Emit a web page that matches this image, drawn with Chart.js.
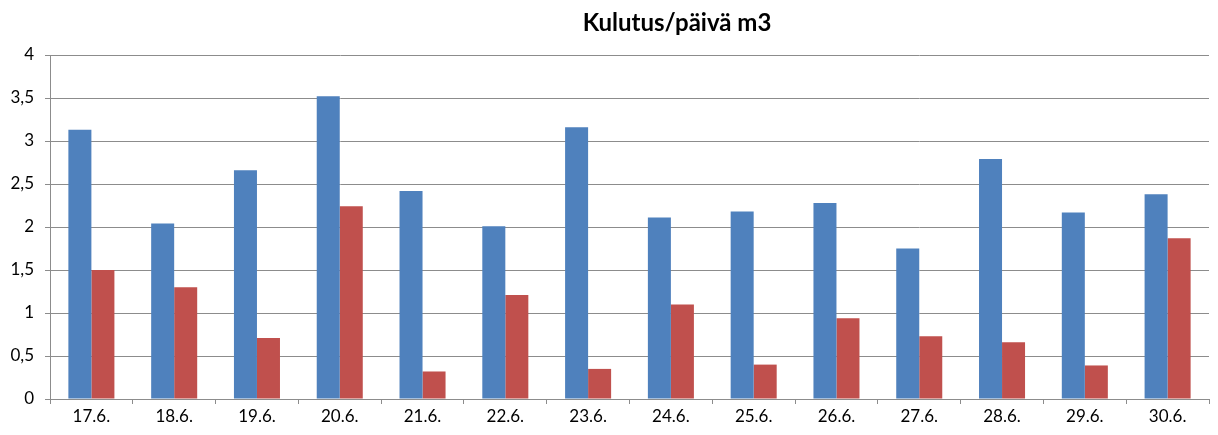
<!DOCTYPE html>
<html>
<head>
<meta charset="utf-8">
<script src="https://cdn.jsdelivr.net/npm/chart.js@4/dist/chart.umd.min.js"></script>
<style>
html,body{margin:0;padding:0;background:#fff;}
#c{display:block;}
</style>
</head>
<body>
<canvas id="c" width="1218" height="435"></canvas>
<script>
const categories = ["17.6.","18.6.","19.6.","20.6.","21.6.","22.6.","23.6.","24.6.","25.6.","26.6.","27.6.","28.6.","29.6.","30.6."];
const seriesBlue = [3.13,2.04,2.66,3.52,2.42,2.01,3.16,2.11,2.18,2.28,1.75,2.79,2.17,2.38];
const seriesRed  = [1.50,1.30,0.71,2.24,0.32,1.21,0.35,1.10,0.40,0.94,0.73,0.66,0.39,1.87];
const yTicks = [0,0.5,1,1.5,2,2.5,3,3.5,4];
const titleText = "Kulutus/päivä m3";

const titlePlugin = {
  id: 'customTitle',
  afterDraw(chart) {
    const ctx = chart.ctx;
    ctx.save();
    ctx.font = 'bold 24px Lato, "Open Sans", sans-serif';
    ctx.fillStyle = '#000';
    ctx.textAlign = 'center';
    ctx.textBaseline = 'middle';
    ctx.fillText(titleText, 677, 23);
    ctx.restore();
  }
};

new Chart(document.getElementById('c'), {
  type: 'bar',
  data: {
    labels: categories,
    datasets: [
      { data: seriesBlue, backgroundColor: '#4F81BD', borderWidth: 0 },
      { data: seriesRed, backgroundColor: '#C0504D', borderWidth: 0 }
    ]
  },
  options: {
    responsive: false,
    devicePixelRatio: 1,
    animation: false,
    layout: { padding: { top: 55, right: 9, left: 0, bottom: 0 } },
    plugins: { legend: { display: false }, tooltip: { enabled: false }, title: { display: false } },
    datasets: { bar: { categoryPercentage: 0.556, barPercentage: 1.0 } },
    scales: {
      x: {
        grid: { display: true, drawOnChartArea: false, drawTicks: true, tickLength: 5, color: '#8c8c8c', offset: true },
        border: { display: true, color: '#8c8c8c', width: 1 },
        ticks: { color: '#000', font: { family: 'Lato, "Open Sans", sans-serif', size: 17 }, padding: 2, maxRotation: 0, autoSkip: false },
        afterFit(scale) { scale.height = 36; }
      },
      y: {
        min: 0, max: 4,
        afterBuildTicks(scale) { scale.ticks = yTicks.map(v => ({ value: v })); },
        grid: { color: '#8c8c8c', tickLength: 5, drawTicks: true },
        border: { display: true, color: '#8c8c8c', width: 1 },
        ticks: {
          color: '#000',
          font: { family: 'Lato, "Open Sans", sans-serif', size: 17 },
          padding: 11,
          callback: (v) => String(v).replace('.', ',')
        },
        afterFit(scale) { scale.width = 50; }
      }
    }
  },
  plugins: [titlePlugin]
});
</script>
</body>
</html>
